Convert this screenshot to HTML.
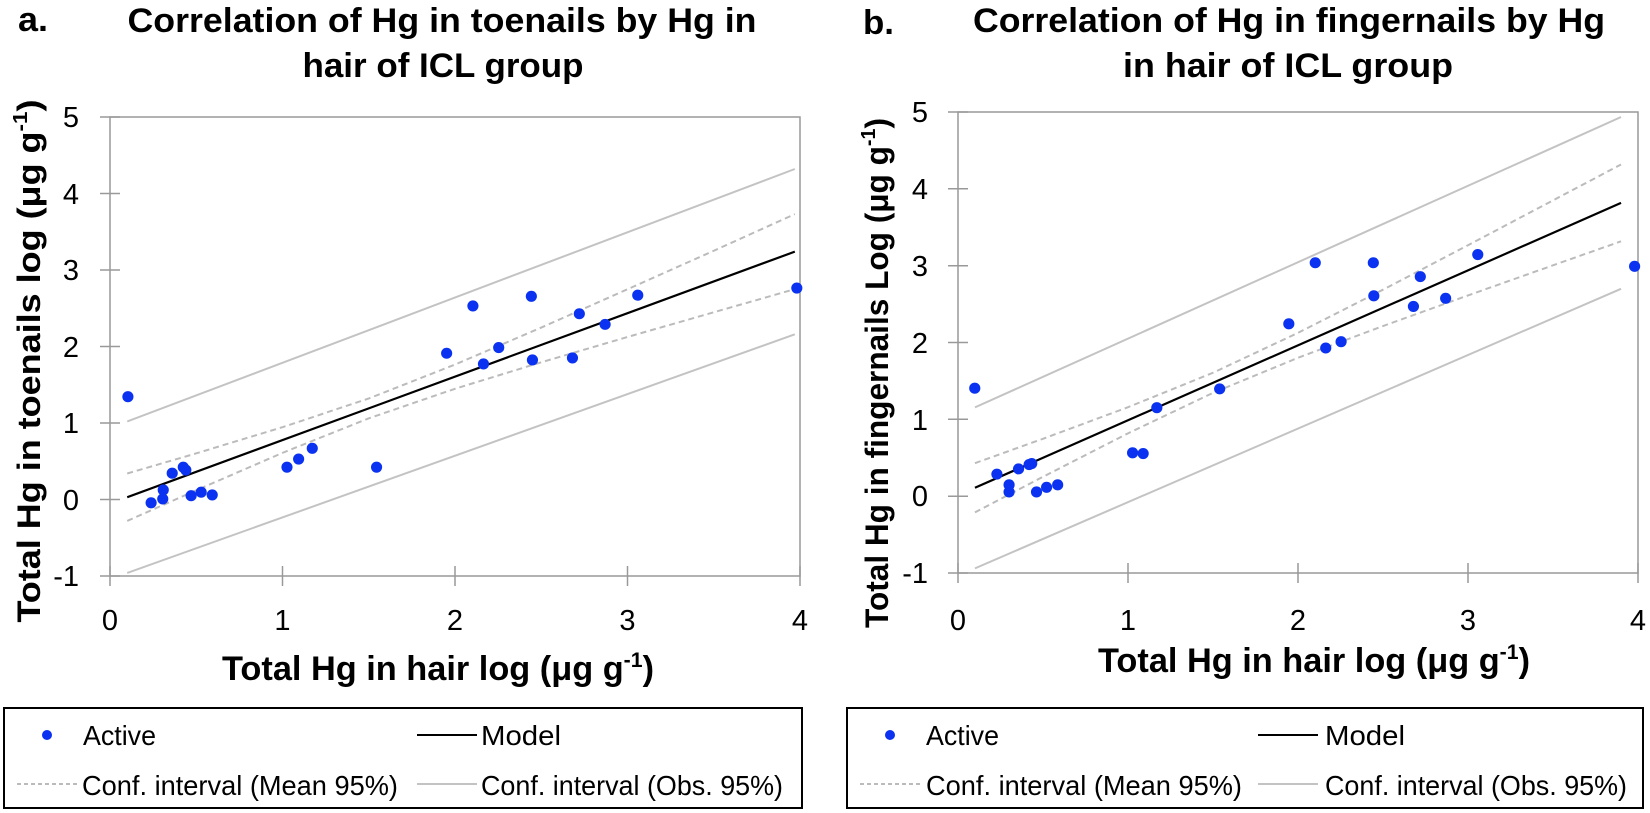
<!DOCTYPE html>
<html><head><meta charset="utf-8"><style>
html,body{margin:0;padding:0;background:#fff;}
svg{display:block;}
text{font-family:"Liberation Sans",sans-serif;}
</style></head><body>
<svg width="1650" height="813" viewBox="0 0 1650 813" xmlns="http://www.w3.org/2000/svg">
<!-- ===== LEFT PANEL ===== -->
<text x="18" y="31" font-size="34" font-weight="bold" textLength="30" lengthAdjust="spacingAndGlyphs">a.</text>
<text x="442" y="32" font-size="34" font-weight="bold" text-anchor="middle" textLength="629" lengthAdjust="spacingAndGlyphs">Correlation of Hg in toenails by Hg in</text>
<text x="443" y="77" font-size="34" font-weight="bold" text-anchor="middle" textLength="281" lengthAdjust="spacingAndGlyphs">hair of ICL group</text>
<rect x="110" y="117" width="690" height="459" fill="none" stroke="#999" stroke-width="1.5"/>
<g stroke="#999" stroke-width="1.5">
<line x1="100" y1="117" x2="120" y2="117"/><line x1="100" y1="193.5" x2="120" y2="193.5"/><line x1="100" y1="270" x2="120" y2="270"/><line x1="100" y1="346.5" x2="120" y2="346.5"/><line x1="100" y1="423" x2="120" y2="423"/><line x1="100" y1="499.5" x2="120" y2="499.5"/><line x1="100" y1="576" x2="120" y2="576"/>
<line x1="110" y1="566" x2="110" y2="586"/><line x1="282.5" y1="566" x2="282.5" y2="586"/><line x1="455" y1="566" x2="455" y2="586"/><line x1="627.5" y1="566" x2="627.5" y2="586"/><line x1="800" y1="566" x2="800" y2="586"/>
</g>
<g font-size="29" text-anchor="end" fill="#000">
<text x="79" y="127">5</text><text x="79" y="204">4</text><text x="79" y="280">3</text><text x="79" y="357">2</text><text x="79" y="433">1</text><text x="79" y="510">0</text><text x="79" y="586">-1</text>
</g>
<g font-size="29" text-anchor="middle">
<text x="110" y="630">0</text><text x="282.5" y="630">1</text><text x="455" y="630">2</text><text x="627.5" y="630">3</text><text x="800" y="630">4</text>
</g>
<g transform="matrix(0.9954,0,0,0.9922,0.5,1.41)">
<line x1="127.3" y1="423.4" x2="798" y2="168.9" stroke="#c3c3c3" stroke-width="2"/>
<line x1="127.3" y1="576" x2="798" y2="335.5" stroke="#c3c3c3" stroke-width="2"/>
<polyline points="127.3,475.8 196.7,455.5 283.3,429.1 370,400.2 456.6,366 543.3,328.7 629.9,290.1 716.6,251.3 798,214.4" fill="none" stroke="#bbb" stroke-width="2" stroke-dasharray="6,4"/>
<polyline points="127.3,523.6 196.7,492.7 283.3,455 370,420.2 456.6,390.4 543.3,363.7 629.9,338.2 716.6,313.3 798,290" fill="none" stroke="#bbb" stroke-width="2" stroke-dasharray="6,4"/>
<line x1="127.3" y1="499.7" x2="798" y2="252.2" stroke="#000" stroke-width="2.2"/>
<g fill="#0a32f0">
<circle cx="128" cy="398.4" r="5.6"/><circle cx="151.3" cy="505.3" r="5.6"/><circle cx="163" cy="501.4" r="5.6"/><circle cx="163.5" cy="492.4" r="5.6"/><circle cx="172.5" cy="475.5" r="5.6"/><circle cx="183.6" cy="469.4" r="5.6"/><circle cx="186.2" cy="472.3" r="5.6"/><circle cx="191.5" cy="498.2" r="5.6"/><circle cx="201.6" cy="494.6" r="5.6"/><circle cx="212.7" cy="497.4" r="5.6"/><circle cx="287.8" cy="469.4" r="5.6"/><circle cx="299.5" cy="461.2" r="5.6"/><circle cx="313.2" cy="450.4" r="5.6"/><circle cx="377.8" cy="469.4" r="5.6"/><circle cx="448.2" cy="354.6" r="5.6"/><circle cx="474.6" cy="306.9" r="5.6"/><circle cx="485.2" cy="365.4" r="5.6"/><circle cx="500.5" cy="348.9" r="5.6"/><circle cx="533.3" cy="297.2" r="5.6"/><circle cx="534.4" cy="361.4" r="5.6"/><circle cx="574.6" cy="359.3" r="5.6"/><circle cx="581.5" cy="314.8" r="5.6"/><circle cx="607.4" cy="325.5" r="5.6"/><circle cx="640.2" cy="296.1" r="5.6"/><circle cx="800" cy="288.9" r="5.6"/>
</g>
</g>
<text transform="translate(40,361) rotate(-90)" font-size="32" font-weight="bold" text-anchor="middle" textLength="523" lengthAdjust="spacingAndGlyphs">Total Hg in toenails log (μg g<tspan font-size="20" dy="-13">-1</tspan><tspan dy="13">)</tspan></text>
<text x="438" y="680" font-size="34" font-weight="bold" text-anchor="middle" textLength="432" lengthAdjust="spacingAndGlyphs">Total Hg in hair log (μg g<tspan font-size="21" dy="-13">-1</tspan><tspan dy="13">)</tspan></text>
<rect x="4" y="708" width="798" height="100" fill="none" stroke="#000" stroke-width="2"/>
<circle cx="47" cy="735" r="5" fill="#0a32f0"/>
<text x="83" y="745" font-size="28" textLength="73" lengthAdjust="spacingAndGlyphs">Active</text>
<line x1="417" y1="735" x2="477" y2="735" stroke="#000" stroke-width="2"/>
<text x="481" y="745" font-size="28" textLength="80" lengthAdjust="spacingAndGlyphs">Model</text>
<line x1="17" y1="784" x2="77" y2="784" stroke="#bbb" stroke-width="2" stroke-dasharray="4,3"/>
<text x="82" y="795" font-size="28" textLength="316" lengthAdjust="spacingAndGlyphs">Conf. interval (Mean 95%)</text>
<line x1="417" y1="784" x2="477" y2="784" stroke="#c3c3c3" stroke-width="2"/>
<text x="481" y="795" font-size="28" textLength="302" lengthAdjust="spacingAndGlyphs">Conf. interval (Obs. 95%)</text>

<!-- ===== RIGHT PANEL ===== -->
<text x="863" y="34" font-size="34" font-weight="bold" textLength="31" lengthAdjust="spacingAndGlyphs">b.</text>
<text x="1289" y="32" font-size="34" font-weight="bold" text-anchor="middle" textLength="632" lengthAdjust="spacingAndGlyphs">Correlation of Hg in fingernails by Hg</text>
<text x="1288" y="77" font-size="34" font-weight="bold" text-anchor="middle" textLength="330" lengthAdjust="spacingAndGlyphs">in hair  of ICL group</text>
<rect x="958" y="112" width="680" height="461" fill="none" stroke="#999" stroke-width="1.5"/>
<g stroke="#999" stroke-width="1.5">
<line x1="948" y1="112" x2="968" y2="112"/><line x1="948" y1="188.8" x2="968" y2="188.8"/><line x1="948" y1="265.7" x2="968" y2="265.7"/><line x1="948" y1="342.5" x2="968" y2="342.5"/><line x1="948" y1="419.3" x2="968" y2="419.3"/><line x1="948" y1="496.2" x2="968" y2="496.2"/><line x1="948" y1="573" x2="968" y2="573"/>
<line x1="958" y1="563" x2="958" y2="583"/><line x1="1128" y1="563" x2="1128" y2="583"/><line x1="1298" y1="563" x2="1298" y2="583"/><line x1="1468" y1="563" x2="1468" y2="583"/><line x1="1638" y1="563" x2="1638" y2="583"/>
</g>
<g font-size="29" text-anchor="end">
<text x="928" y="122">5</text><text x="928" y="199">4</text><text x="928" y="276">3</text><text x="928" y="353">2</text><text x="928" y="430">1</text><text x="928" y="506">0</text><text x="928" y="583">-1</text>
</g>
<g font-size="29" text-anchor="middle">
<text x="958" y="630">0</text><text x="1128" y="630">1</text><text x="1298" y="630">2</text><text x="1468" y="630">3</text><text x="1638" y="630">4</text>
</g>
<g transform="matrix(0.99765,0,0,0.990,1.25,1.6)">
<line x1="976" y1="409.9" x2="1623.6" y2="116.6" stroke="#c3c3c3" stroke-width="2"/>
<line x1="976" y1="572.5" x2="1623.6" y2="290.1" stroke="#c3c3c3" stroke-width="2"/>
<polyline points="976,466.2 1044.2,441.6 1129.4,409.7 1214.6,374.9 1299.8,334.6 1385,291 1470.2,246.1 1555.4,200.8 1623.6,164.5" fill="none" stroke="#bbb" stroke-width="2" stroke-dasharray="6,4"/>
<polyline points="976,515.9 1044.2,480 1129.4,436.1 1214.6,395.2 1299.8,359.8 1385,327.7 1470.2,296.8 1555.4,266.4 1623.6,242.1" fill="none" stroke="#bbb" stroke-width="2" stroke-dasharray="6,4"/>
<line x1="976" y1="491.1" x2="1623.6" y2="203.3" stroke="#000" stroke-width="2.2"/>
<g fill="#0a32f0">
<circle cx="975.8" cy="390.5" r="5.6"/><circle cx="998" cy="477.3" r="5.6"/><circle cx="1010.2" cy="488.1" r="5.6"/><circle cx="1010.2" cy="495.3" r="5.6"/><circle cx="1019.7" cy="472" r="5.6"/><circle cx="1030.3" cy="467.6" r="5.6"/><circle cx="1032.9" cy="466.6" r="5.6"/><circle cx="1037.7" cy="495.3" r="5.6"/><circle cx="1047.8" cy="490.6" r="5.6"/><circle cx="1058.9" cy="488.1" r="5.6"/><circle cx="1134" cy="455.8" r="5.6"/><circle cx="1144.6" cy="456.5" r="5.6"/><circle cx="1158.3" cy="410.2" r="5.6"/><circle cx="1221.3" cy="391.2" r="5.6"/><circle cx="1290.6" cy="325.5" r="5.6"/><circle cx="1317.1" cy="263.8" r="5.6"/><circle cx="1327.6" cy="349.9" r="5.6"/><circle cx="1343" cy="343.5" r="5.6"/><circle cx="1375.3" cy="263.8" r="5.6"/><circle cx="1375.8" cy="297.2" r="5.6"/><circle cx="1415.5" cy="307.9" r="5.6"/><circle cx="1422.4" cy="277.8" r="5.6"/><circle cx="1447.8" cy="299.7" r="5.6"/><circle cx="1480" cy="255.5" r="5.6"/><circle cx="1637.2" cy="267.4" r="5.6"/>
</g>
</g>
<text transform="translate(888,373) rotate(-90)" font-size="32" font-weight="bold" text-anchor="middle" textLength="510" lengthAdjust="spacingAndGlyphs">Total Hg in fingernails Log (μg g<tspan font-size="20" dy="-13">-1</tspan><tspan dy="13">)</tspan></text>
<text x="1314" y="672" font-size="34" font-weight="bold" text-anchor="middle" textLength="432" lengthAdjust="spacingAndGlyphs">Total Hg in hair log (μg g<tspan font-size="21" dy="-13">-1</tspan><tspan dy="13">)</tspan></text>
<rect x="847" y="708" width="796" height="100" fill="none" stroke="#000" stroke-width="2"/>
<circle cx="890" cy="735" r="5" fill="#0a32f0"/>
<text x="926" y="745" font-size="28" textLength="73" lengthAdjust="spacingAndGlyphs">Active</text>
<line x1="1258" y1="735" x2="1318" y2="735" stroke="#000" stroke-width="2"/>
<text x="1325" y="745" font-size="28" textLength="80" lengthAdjust="spacingAndGlyphs">Model</text>
<line x1="860" y1="784" x2="920" y2="784" stroke="#bbb" stroke-width="2" stroke-dasharray="4,3"/>
<text x="926" y="795" font-size="28" textLength="316" lengthAdjust="spacingAndGlyphs">Conf. interval (Mean 95%)</text>
<line x1="1258" y1="784" x2="1318" y2="784" stroke="#c3c3c3" stroke-width="2"/>
<text x="1325" y="795" font-size="28" textLength="302" lengthAdjust="spacingAndGlyphs">Conf. interval (Obs. 95%)</text>
</svg>
</body></html>
